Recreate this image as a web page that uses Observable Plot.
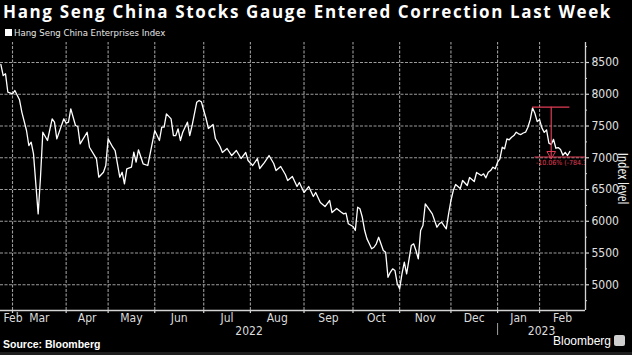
<!DOCTYPE html>
<html><head><meta charset="utf-8">
<script src="https://cdn.jsdelivr.net/npm/d3@7"></script>
<script src="https://cdn.jsdelivr.net/npm/@observablehq/plot@0.6"></script>
<style>
html,body{margin:0;padding:0;background:#000;}
body{width:632px;height:355px;overflow:hidden;position:relative;}
#title{position:absolute;left:3px;top:1px;color:#fff;font-family:"Open Sans";font-weight:bold;font-size:17px;white-space:nowrap;line-height:22px;}
#legend{position:absolute;left:5px;top:26px;color:#e6e6e6;font-family:"DejaVu Sans Condensed","DejaVu Sans",sans-serif;font-stretch:condensed;font-size:9.5px;line-height:14px;white-space:nowrap;}
#legend .sw{display:inline-block;width:7px;height:7px;background:#fff;margin-right:2px;}
#chart{position:absolute;left:0;top:40px;}
#source{position:absolute;left:3px;top:338px;color:#fff;font-family:"Liberation Sans";font-weight:bold;font-size:10.5px;white-space:nowrap;}
#brand{position:absolute;left:553px;top:334px;color:#fff;font-family:"Liberation Sans";font-size:12px;white-space:nowrap;}
#brand .ic{display:inline-block;width:11px;height:11px;background:#cfcfcf;border-radius:2px;margin-left:3px;vertical-align:-1px;}
#band{position:absolute;left:0;top:352px;width:632px;height:3px;background:#1e1e1e;}
</style></head>
<body>
<div id="title">Hang Seng China Stocks Gauge Entered Correction Last Week</div>
<div id="legend"><span class="sw"></span>Hang Seng China Enterprises Index</div>
<div id="chart"></div>
<div id="source">Source: Bloomberg</div>
<div id="brand">Bloomberg<span class="ic"></span></div>
<div id="band"></div>
<script>
// Trading-day index (0 = first session shown, late Feb 2022) and index close
const tradingDay = [0,1,2,3,5,6,8,9,11,12,13,14,16,17,18,20,22,23,24,27,28,29,30,32,33,34,37,38,41,42,44,45,46,48,49,51,52,53,54,56,57,58,59,61,63,66,68,69,70,71,73,74,75,76,77,78,80,81,82,84,85,86,87,88,89,91,92,94,95,97,99,101,103,105,106,108,110,111,113,115,117,118,120,122,123,125,127,128,130,132,134,135,137,139,141,142,144,146,147,148,149,151,152,153,154,155,156,157,158,159,160,161,162,164,165,166,167,168,169,170,171,172,173,174,176,177,178,179,180,181,182,183,185,187,188,189,190,191,192,193,194,195,197,198,200,201,203,204,206,207,208,209,210,211,212,213,214,215,216,217,218,219,220,221,222,223,224,225,226,227,228,229,230,231,232,233,234,235,236,237,238,239,240,241,242,243,244];
const indexLevel = [8469,8295,8322,8032,8007,8059,7913,7720,7429,7193,7245,7062,6117,6694,7402,7272,7613,7560,7298,7613,7544,7560,7771,7508,7492,7220,7402,7166,6983,6694,6772,6878,7298,7166,7114,6694,6772,6590,6826,6851,7087,6930,7125,6905,6878,7429,7272,7481,7481,7692,7613,7350,7350,7456,7272,7402,7560,7350,7508,7875,7902,7880,7744,7618,7461,7524,7303,7177,7083,7146,7035,7114,6988,7083,6957,6878,6988,6831,6925,7035,6910,6799,6862,6736,6642,6705,6547,6610,6453,6547,6390,6453,6295,6232,6327,6138,6201,6142,6117,6127,5960,5917,5854,6221,6196,6063,5854,5723,5645,5566,5591,5645,5748,5539,5512,5118,5197,5251,5224,5015,4936,5172,5355,5172,5618,5645,5539,5408,5854,5933,6275,6221,6117,5906,5960,5985,5933,5881,6117,6327,6484,6579,6516,6642,6563,6689,6626,6768,6720,6747,6684,6772,6799,6851,6826,6930,6983,7166,7141,7298,7283,7323,7350,7402,7377,7366,7390,7402,7481,7600,7785,7700,7570,7600,7470,7400,7440,7230,7210,7290,7150,7160,7130,7040,7085,7035,7100];

// Trading-day index of the first session of each month (Mar 2022 .. Feb 2023)
const monthStarts = [5,28,46,66,87,107,130,151,171,193,213,231];
const monthNames = ["Feb","Mar","Apr","May","Jun","Jul","Aug","Sep","Oct","Nov","Dec","Jan","Feb"];
const yearNames = ["2022","2023"];
const yearStart2023 = 213;
const yTicks = [5000,5500,6000,6500,7000,7500,8000,8500];
const yMinorTicks = [4750,5250,5750,6250,6750,7250,7750,8250,8750];
const xDomain = [-0.15, 250.7];
const yDomain = [4595, 8815];

// Correction annotation
const corrPeakDay = 228, corrPeak = 7796, corrLow = 7012, corrArrowDay = 236;
const corrLabel = "-10.06% (-784.3)";
const lastDay = tradingDay[tradingDay.length - 1];

const red = "#e03c55";
const axisGray = "#d4d4d4";
const gridStyle = {stroke: "#9c9c9c", strokeOpacity: 1, strokeWidth: 1.1, strokeDasharray: "3,1.5"};
const bounds = [xDomain[0], ...monthStarts, xDomain[1]];
const monthMid = monthNames.map((_, k) => (bounds[k] + bounds[k + 1]) / 2);
const yearBounds = [xDomain[0], yearStart2023, xDomain[1]];
const yearMid = yearNames.map((_, k) => (yearBounds[k] + yearBounds[k + 1]) / 2);
const plotH = 300 - 2 - 30;
const tickFont = "'DejaVu Sans Condensed', 'DejaVu Sans', sans-serif";

const chart = Plot.plot({
  width: 632, height: 300,
  marginTop: 2, marginBottom: 30, marginLeft: 0, marginRight: 47,
  style: {background: "transparent", color: "#dcdcdc", fontFamily: tickFont, fontStretch: "condensed", fontSize: "12px", overflow: "visible"},
  x: {type: "linear", domain: xDomain, axis: null},
  y: {type: "linear", domain: yDomain, axis: null},
  marks: [
    Plot.ruleX(monthStarts, {x: d => d, y1: yDomain[0], y2: yDomain[1], ...gridStyle}),
    Plot.ruleY(yTicks, {y: d => d, x1: xDomain[0], x2: xDomain[1], ...gridStyle}),
    Plot.ruleY([yDomain[0]], {y: d => d, x1: xDomain[0], x2: xDomain[1], stroke: axisGray, strokeWidth: 1.3}),
    Plot.ruleX([xDomain[1]], {x: d => d, y1: yDomain[0], y2: yDomain[1], stroke: axisGray, strokeWidth: 1.3}),
    Plot.ruleX(monthStarts, {x: d => d, y1: yDomain[0], y2: yDomain[0], stroke: axisGray, strokeWidth: 1.2, insetBottom: -3}),
    Plot.ruleY(yTicks, {y: d => d, x1: xDomain[1], x2: xDomain[1], stroke: axisGray, strokeWidth: 1.2, insetRight: -4}),
    Plot.ruleY(yMinorTicks.filter(v => v > yDomain[0] && v < yDomain[1]), {y: d => d, x1: xDomain[1], x2: xDomain[1], stroke: axisGray, strokeWidth: 1, insetRight: -2}),
    Plot.text(yTicks, {y: d => d, text: d3.format("d"), frameAnchor: "right", dx: 6, textAnchor: "start", lineAnchor: "middle", fill: "#e0e0e0"}),
    Plot.text([monthNames[0]], {x: xDomain[0], frameAnchor: "bottom", dy: 8, dx: 3, textAnchor: "start", lineAnchor: "middle", fill: "#dcdcdc"}),
    Plot.text(monthNames.slice(1), {x: (d, k) => monthMid[k + 1], frameAnchor: "bottom", dy: 8, textAnchor: "middle", lineAnchor: "middle", fill: "#dcdcdc"}),
    Plot.text(yearNames, {x: (d, k) => yearMid[k], frameAnchor: "bottom", dy: 21, textAnchor: "middle", lineAnchor: "middle", fill: "#dcdcdc"}),
    Plot.ruleX([yearStart2023], {x: d => d, stroke: "#a0a0a0", insetTop: plotH + 13, insetBottom: -25}),
    Plot.text(["Index level"], {frameAnchor: "right", dx: 37, dy: 2, rotate: 90, textAnchor: "middle", lineAnchor: "middle", fontSize: 14, fontFamily: "Open Sans", fontStretch: "normal", fill: "#eeeeee"}),
    Plot.line(tradingDay, {x: tradingDay, y: indexLevel, stroke: "#ffffff", strokeWidth: 1.3}),
    Plot.ruleY([corrPeak], {x1: corrPeakDay, x2: lastDay, stroke: red, strokeWidth: 1.2}),
    Plot.ruleY([corrLow], {x1: corrPeakDay + 1, x2: xDomain[1], stroke: red, strokeWidth: 1.2}),
    Plot.ruleX([corrArrowDay], {y1: corrPeak, y2: corrLow, stroke: red, strokeWidth: 1.2}),
    Plot.dot([corrArrowDay], {x: d => d, y: corrLow, symbol: "triangle", rotate: 180, r: 3.2, stroke: red, fill: "none", dy: -3, strokeWidth: 1}),
    Plot.text([corrLabel], {x: corrPeakDay + 1, y: corrLow, dx: 1, dy: 3, textAnchor: "start", lineAnchor: "top", fill: red, fontSize: 7, clip: true})
  ]
});
document.getElementById("chart").appendChild(chart);

// fit title width to the reference span
const t = document.getElementById("title");
const w = t.getBoundingClientRect().width;
t.style.letterSpacing = ((609 - w) / t.textContent.length) + "px";
</script>
</body></html>
